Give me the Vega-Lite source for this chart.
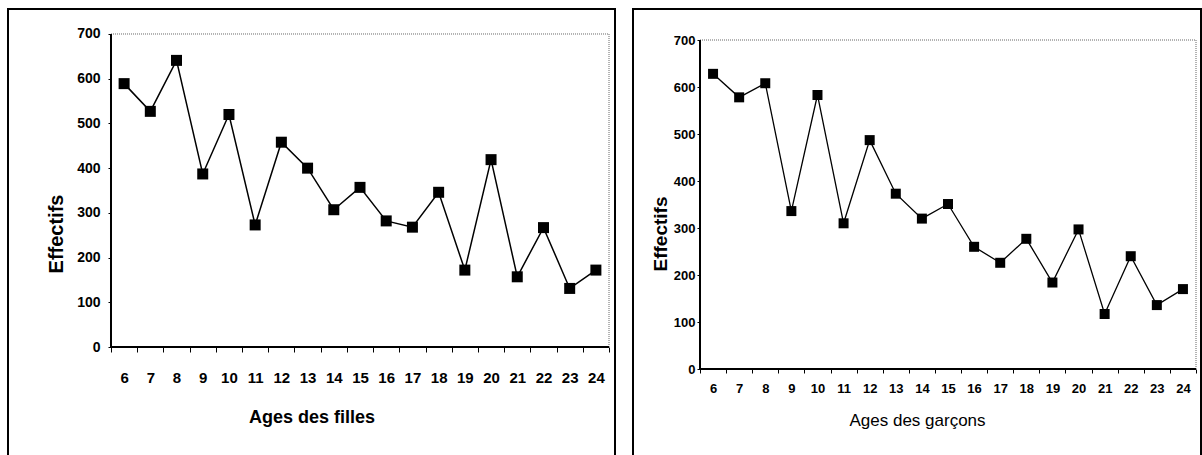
{
  "$schema": "https://vega.github.io/schema/vega-lite/v6.json",
  "background": "white",
  "padding": {"left": 7, "top": 8, "right": 0, "bottom": 0},
  "spacing": 16,
  "config": {
    "view": {"stroke": "black", "strokeWidth": 2},
    "axis": {"labelColor": "black", "titleColor": "black", "tickColor": "black", "grid": false, "domain": false, "labelFlush": false}
  },
  "datasets": {
    "filles": [
      {"age": 6, "effectif": 589}, {"age": 7, "effectif": 527}, {"age": 8, "effectif": 641},
      {"age": 9, "effectif": 387}, {"age": 10, "effectif": 520}, {"age": 11, "effectif": 273},
      {"age": 12, "effectif": 458}, {"age": 13, "effectif": 400}, {"age": 14, "effectif": 307},
      {"age": 15, "effectif": 357}, {"age": 16, "effectif": 282}, {"age": 17, "effectif": 268},
      {"age": 18, "effectif": 346}, {"age": 19, "effectif": 172}, {"age": 20, "effectif": 419},
      {"age": 21, "effectif": 157}, {"age": 22, "effectif": 267}, {"age": 23, "effectif": 131},
      {"age": 24, "effectif": 172}
    ],
    "garcons": [
      {"age": 6, "effectif": 628}, {"age": 7, "effectif": 578}, {"age": 8, "effectif": 608},
      {"age": 9, "effectif": 336}, {"age": 10, "effectif": 583}, {"age": 11, "effectif": 310},
      {"age": 12, "effectif": 487}, {"age": 13, "effectif": 373}, {"age": 14, "effectif": 320},
      {"age": 15, "effectif": 351}, {"age": 16, "effectif": 260}, {"age": 17, "effectif": 226},
      {"age": 18, "effectif": 277}, {"age": 19, "effectif": 184}, {"age": 20, "effectif": 297},
      {"age": 21, "effectif": 117}, {"age": 22, "effectif": 240}, {"age": 23, "effectif": 136},
      {"age": 24, "effectif": 170}
    ]
  },
  "hconcat": [
    {
      "width": 607,
      "height": 449,
      "resolve": {"axis": {"x": "independent"}},
      "layer": [
        {
          "data": {"values": [{}]},
          "mark": {"type": "rect", "fill": null, "stroke": "#666666", "strokeWidth": 1, "strokeDash": [1, 1]},
          "encoding": {
            "x": {
              "datum": 5.5, "type": "quantitative",
              "scale": {"domain": [1.5703, 24.7289], "nice": false, "zero": false},
              "axis": {
                "orient": "bottom",
                "values": [5.5,6.5,7.5,8.5,9.5,10.5,11.5,12.5,13.5,14.5,15.5,16.5,17.5,18.5,19.5,20.5,21.5,22.5,23.5,24.5],
                "offset": -111,
                "labels": false,
                "tickSize": 5,
                "title": null
              }
            },
            "x2": {"datum": 24.5},
            "y": {"datum": 0, "type": "quantitative"},
            "y2": {"datum": 700}
          }
        },
        {
          "data": {"values": [{}]},
          "mark": {"type": "rule", "color": "black", "strokeWidth": 2},
          "encoding": {
            "x": {"datum": 5.5, "type": "quantitative", "axis": null},
            "y": {"datum": 0, "type": "quantitative"},
            "y2": {"datum": 700}
          }
        },
        {
          "data": {"values": [{}]},
          "mark": {"type": "rule", "color": "black", "strokeWidth": 2},
          "encoding": {
            "x": {"datum": 5.5, "type": "quantitative", "axis": null},
            "x2": {"datum": 24.5},
            "y": {"datum": 0, "type": "quantitative"}
          }
        },
        {
          "data": {"name": "filles"},
          "mark": {"type": "line", "color": "black", "strokeWidth": 1.5},
          "encoding": {
            "x": {
              "field": "age", "type": "quantitative",
              "scale": {"domain": [1.5703, 24.7289], "nice": false, "zero": false},
              "axis": {
                "orient": "bottom",
                "values": [6,7,8,9,10,11,12,13,14,15,16,17,18,19,20,21,22,23,24],
                "offset": -111,
                "ticks": false,
                "tickSize": 0,
                "labelOverlap": false,
                "labelSeparation": -40,
                "labelPadding": 23,
                "labelFont": "Liberation Sans Narrow, Arial Narrow, Liberation Sans",
                "labelFontSize": 15,
                "labelFontWeight": "bold",
                "title": "Ages des filles",
                "titleFont": "Liberation Sans",
                "titleFontSize": 18,
                "titleFontWeight": "bold",
                "titlePadding": 23
              }
            },
            "y": {
              "field": "effectif", "type": "quantitative",
              "scale": {"domain": [-248.24, 755.91], "nice": false, "zero": false},
              "axis": {
                "values": [0, 100, 200, 300, 400, 500, 600, 700],
                "offset": -103,
                "tickSize": 3,
                "labelPadding": 8,
                "labelFont": "Liberation Sans Narrow, Arial Narrow, Liberation Sans",
                "labelFontSize": 14,
                "labelFontWeight": "bold",
                "title": "Effectifs",
                "titleFont": "Liberation Sans",
                "titleFontSize": 20,
                "titleFontWeight": "bold",
                "titlePadding": 10
              }
            }
          }
        },
        {
          "data": {"name": "filles"},
          "mark": {"type": "square", "filled": true, "color": "black", "size": 121, "opacity": 1},
          "encoding": {
            "x": {"field": "age", "type": "quantitative", "axis": null},
            "y": {"field": "effectif", "type": "quantitative"}
          }
        }
      ]
    },
    {
      "width": 568,
      "height": 449,
      "resolve": {"axis": {"x": "independent"}},
      "layer": [
        {
          "data": {"values": [{}]},
          "mark": {"type": "rect", "fill": null, "stroke": "#666666", "strokeWidth": 1, "strokeDash": [1, 1]},
          "encoding": {
            "x": {
              "datum": 5.5, "type": "quantitative",
              "scale": {"domain": [2.9334, 24.6915], "nice": false, "zero": false},
              "axis": {
                "orient": "bottom",
                "values": [5.5,6.5,7.5,8.5,9.5,10.5,11.5,12.5,13.5,14.5,15.5,16.5,17.5,18.5,19.5,20.5,21.5,22.5,23.5,24.5],
                "offset": -89,
                "labels": false,
                "tickSize": 4,
                "title": null
              }
            },
            "x2": {"datum": 24.5},
            "y": {"datum": 0, "type": "quantitative"},
            "y2": {"datum": 700}
          }
        },
        {
          "data": {"values": [{}]},
          "mark": {"type": "rule", "color": "black", "strokeWidth": 2},
          "encoding": {
            "x": {"datum": 5.5, "type": "quantitative", "axis": null},
            "y": {"datum": 0, "type": "quantitative"},
            "y2": {"datum": 700}
          }
        },
        {
          "data": {"values": [{}]},
          "mark": {"type": "rule", "color": "black", "strokeWidth": 2},
          "encoding": {
            "x": {"datum": 5.5, "type": "quantitative", "axis": null},
            "x2": {"datum": 24.5},
            "y": {"datum": 0, "type": "quantitative"}
          }
        },
        {
          "data": {"name": "garcons"},
          "mark": {"type": "line", "color": "black", "strokeWidth": 1.3},
          "encoding": {
            "x": {
              "field": "age", "type": "quantitative",
              "scale": {"domain": [2.9334, 24.6915], "nice": false, "zero": false},
              "axis": {
                "orient": "bottom",
                "values": [6,7,8,9,10,11,12,13,14,15,16,17,18,19,20,21,22,23,24],
                "offset": -89,
                "ticks": false,
                "tickSize": 0,
                "labelOverlap": false,
                "labelSeparation": -40,
                "labelPadding": 13,
                "labelFont": "Liberation Sans Narrow, Arial Narrow, Liberation Sans",
                "labelFontSize": 13,
                "labelFontWeight": "bold",
                "title": "Ages des garçons",
                "titleFont": "Liberation Sans",
                "titleFontSize": 17,
                "titleFontWeight": "normal",
                "titlePadding": 17
              }
            },
            "y": {
              "field": "effectif", "type": "quantitative",
              "scale": {"domain": [-189.36, 765.96], "nice": false, "zero": false},
              "axis": {
                "values": [0, 100, 200, 300, 400, 500, 600, 700],
                "offset": -67,
                "tickSize": 3,
                "labelPadding": 2,
                "labelFont": "Liberation Sans Narrow, Arial Narrow, Liberation Sans",
                "labelFontSize": 13,
                "labelFontWeight": "bold",
                "title": "Effectifs",
                "titleFont": "Liberation Sans",
                "titleFontSize": 19,
                "titleFontWeight": "bold",
                "titlePadding": 3
              }
            }
          }
        },
        {
          "data": {"name": "garcons"},
          "mark": {"type": "square", "filled": true, "color": "black", "size": 100, "opacity": 1},
          "encoding": {
            "x": {"field": "age", "type": "quantitative", "axis": null},
            "y": {"field": "effectif", "type": "quantitative"}
          }
        }
      ]
    }
  ]
}
